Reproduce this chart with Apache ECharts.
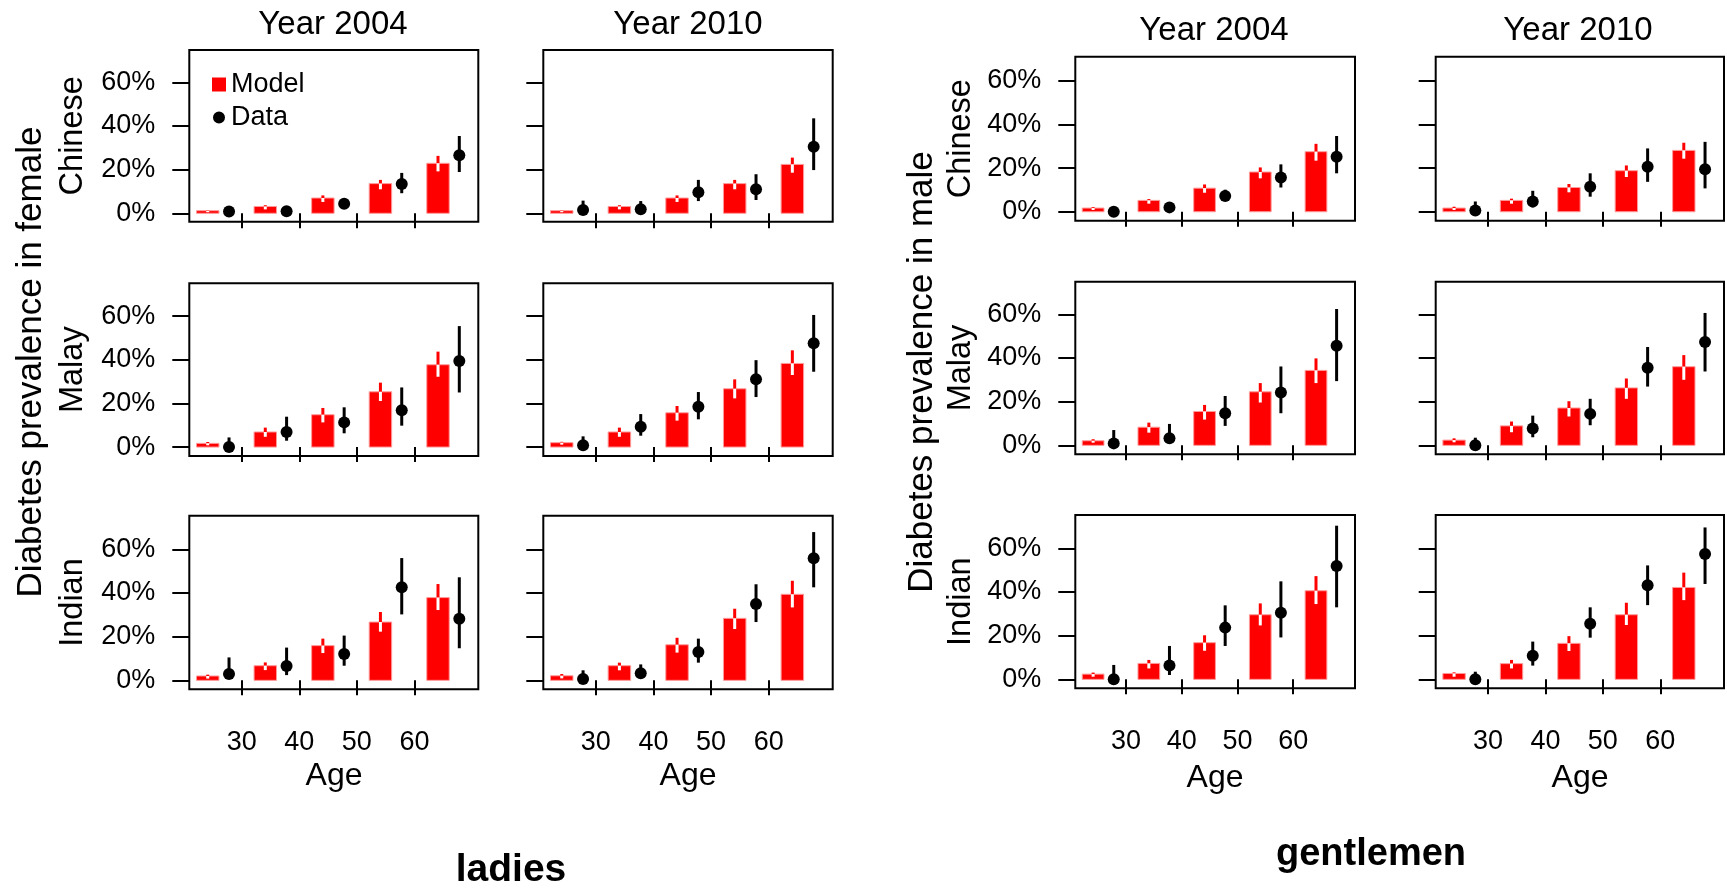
<!DOCTYPE html>
<html>
<head>
<meta charset="utf-8">
<script src="https://cdn.jsdelivr.net/npm/echarts@6/dist/echarts.min.js"></script>
<style>
html,body{margin:0;padding:0;background:#fff;}
#chart{width:1727px;height:888px;}
</style>
</head>
<body>
<div id="chart"></div>
<script>
// ---- Data (values in %) : each entry [estimate, lower, upper] ----
const modelAge = [24.1, 34.1, 44.1, 54.1, 64.1];
const dataAge  = [27.8, 37.8, 47.8, 57.8, 67.8];
const ageTicks = [30, 40, 50, 60];
const pctTicks = [0, 20, 40, 60];
const years = ['Year 2004', 'Year 2010'];
const ethnicities = ['Chinese', 'Malay', 'Indian'];

// Female
const femChinese2004Model = [[1.2,0.5,1.5],[3.1,1.8,3.7],[7.0,5.2,8.2],[13.6,11.0,15.3],[22.9,19.2,26.3]];
const femChinese2004Data  = [[0.8,0.2,1.5],[0.9,0.3,1.6],[4.4,3.0,6.0],[13.4,9.2,18.5],[26.6,18.9,35.4]];
const femChinese2010Model = [[1.2,0.5,1.5],[3.1,1.8,3.7],[7.0,5.2,8.2],[13.6,11.0,15.3],[22.4,18.6,25.5]];
const femChinese2010Data  = [[1.5,0,5.8],[1.8,0,5.6],[9.6,5.6,15.3],[11.0,6.1,17.9],[30.5,19.8,43.5]];
const femMalay2004Model   = [[1.7,0.8,2.3],[6.9,4.7,8.9],[14.8,11.3,17.9],[25.3,21.1,29.5],[37.7,32.2,43.7]];
const femMalay2004Data    = [[0,0,4.4],[6.9,2.9,13.9],[11.3,6.3,18.2],[16.9,9.8,27.3],[39.4,25.0,55.4]];
const femMalay2010Model   = [[2.0,1.1,2.4],[6.9,4.7,8.9],[15.7,12.1,18.8],[26.7,22.3,31.0],[38.3,33.0,44.3]];
const femMalay2010Data    = [[0.8,0,4.9],[9.3,5.2,15.1],[18.5,12.7,25.2],[31.0,22.9,39.8],[47.5,34.5,60.5]];
const femIndian2004Model  = [[2.0,0.8,2.6],[6.7,4.7,8.2],[15.9,12.5,19.1],[26.7,22.3,31.3],[37.9,32.2,44.1]];
const femIndian2004Data   = [[2.9,0.8,10.5],[6.6,2.4,15.0],[12.1,6.7,20.5],[42.6,30.2,56.0],[28.2,14.7,47.2]];
const femIndian2010Model  = [[2.1,0.9,2.9],[6.7,4.6,8.1],[16.3,12.7,19.5],[28.4,23.5,32.8],[39.4,33.4,45.6]];
const femIndian2010Data   = [[0.6,0,4.6],[3.2,1.2,7.3],[13.0,8.1,19.1],[35.0,26.7,44.0],[55.9,42.6,67.9]];

// Male
const maleChinese2004Model = [[1.7,0.8,2.1],[5.2,3.7,5.8],[10.8,8.7,12.5],[18.2,15.3,20.3],[27.5,23.4,31.1]];
const maleChinese2004Data  = [[0,0,1.0],[2.0,1.0,3.5],[7.2,5.0,10.1],[15.7,11.1,21.7],[25.2,17.6,34.7]];
const maleChinese2010Model = [[1.7,0.8,2.3],[5.2,3.7,6.0],[11.1,8.9,12.7],[18.8,15.9,21.2],[28.1,24.3,31.6]];
const maleChinese2010Data  = [[0.6,0,4.7],[4.7,2.0,9.6],[11.5,6.9,17.6],[20.6,13.7,29.0],[19.5,10.7,32.0]];
const maleMalay2004Model   = [[2.1,1.2,2.8],[8.3,5.8,10.4],[15.5,11.8,18.5],[24.5,19.6,28.5],[34.3,28.5,39.8]];
const maleMalay2004Data    = [[0.9,0,7.0],[3.2,0.9,9.8],[14.7,8.9,22.6],[24.2,14.7,36.1],[45.6,29.4,62.4]];
const maleMalay2010Model   = [[2.4,1.4,3.2],[8.9,6.0,10.9],[17.1,13.2,20.2],[26.3,21.3,30.6],[36.0,30.0,41.3]];
const maleMalay2010Data    = [[0,0,3.5],[7.7,3.7,13.6],[14.4,9.2,21.3],[35.5,26.9,45.0],[47.3,33.8,60.6]];
const maleIndian2004Model  = [[2.4,1.2,3.1],[7.3,5.0,8.9],[16.8,13.1,20.2],[29.6,24.7,34.8],[40.6,34.5,47.3]];
const maleIndian2004Data   = [[0,0,6.6],[6.3,2.0,15.3],[23.7,15.3,33.9],[30.5,19.2,44.9],[51.9,33.0,70.4]];
const maleIndian2010Model  = [[2.7,1.2,3.2],[7.2,5.0,8.9],[16.5,13.0,19.8],[29.6,24.9,35.1],[42.1,36.3,48.9]];
const maleIndian2010Data   = [[0,0,3.5],[10.8,6.3,17.3],[25.5,19.1,33.0],[43.1,34.0,52.2],[57.4,43.7,69.6]];

// ---- Layout ----
const FONT = "'Liberation Sans', Arial, Helvetica, sans-serif";
const panels = [
  {m: femChinese2004Model, d: femChinese2004Data, col:0, row:0},
  {m: femChinese2010Model, d: femChinese2010Data, col:1, row:0},
  {m: femMalay2004Model,   d: femMalay2004Data,   col:0, row:1},
  {m: femMalay2010Model,   d: femMalay2010Data,   col:1, row:1},
  {m: femIndian2004Model,  d: femIndian2004Data,  col:0, row:2},
  {m: femIndian2010Model,  d: femIndian2010Data,  col:1, row:2},
  {m: maleChinese2004Model, d: maleChinese2004Data, col:2, row:0},
  {m: maleChinese2010Model, d: maleChinese2010Data, col:3, row:0},
  {m: maleMalay2004Model,   d: maleMalay2004Data,   col:2, row:1},
  {m: maleMalay2010Model,   d: maleMalay2010Data,   col:3, row:1},
  {m: maleIndian2004Model,  d: maleIndian2004Data,  col:2, row:2},
  {m: maleIndian2010Model,  d: maleIndian2010Data,  col:3, row:2}
];
const colBox = [ {left:189.3, width:289}, {left:543.3, width:289.4}, {left:1075.3, width:279.7}, {left:1435.7, width:288.3} ];
const rowBoxL = [ {top:50, height:171.7, min:-3.85, max:74.8}, {top:283.3, height:172.7, min:-4.1, max:75.0}, {top:515.7, height:173.6, min:-4.1, max:75.4} ];
const rowBoxR = [ {top:56.7, height:164, min:-4.1, max:71.0}, {top:281.7, height:172.6, min:-4.1, max:74.9}, {top:515, height:173.3, min:-4.1, max:75.3} ];

const grids = [], xAxes = [], yAxes = [], series = [];
panels.forEach((p, i) => {
  const cb = colBox[p.col];
  const rb = (p.col < 2 ? rowBoxL : rowBoxR)[p.row];
  grids.push({left: cb.left, top: rb.top, width: cb.width, height: rb.height,
    show: true, borderColor: '#000', borderWidth: 2, backgroundColor: 'transparent', containLabel: false});
  const bottom = p.row === 2;
  const leftCol = p.col === 0 || p.col === 2;
  xAxes.push({type:'value', gridIndex:i, min:20.9, max:71.1,
    axisLine:{show:false}, splitLine:{show:false},
    axisTick:{show:true, customValues: ageTicks, length:15, lineStyle:{color:'#000', width:2}},
    axisLabel:{show: bottom, customValues: ageTicks, margin: 40, fontSize:27, color:'#000', fontFamily:FONT}
  });
  yAxes.push({type:'value', gridIndex:i, min: rb.min, max: rb.max,
    axisLine:{show:false}, splitLine:{show:false},
    axisTick:{show:true, customValues: pctTicks, length:17, lineStyle:{color:'#000', width:2}},
    axisLabel:{show: leftCol, customValues: pctTicks, formatter:'{value}%', margin: 34, fontSize:27, color:'#000', fontFamily:FONT}
  });
  series.push({
    type:'custom', name: i === 0 ? 'Model' : 'Model ' + i, xAxisIndex:i, yAxisIndex:i,
    itemStyle:{color:'#ff0000'},
    data: p.m.map((v, k) => [modelAge[k], v[0], v[1], v[2]]),
    renderItem: function(params, api){
      const x = api.value(0), v = api.value(1), lo = api.value(2), hi = api.value(3);
      const a = api.coord([x - 1.95, v]), b = api.coord([x + 1.95, 0]);
      const t = api.coord([x, v]), l = api.coord([x, lo]), h = api.coord([x, hi]);
      return {type:'group', children:[
        {type:'rect', shape:{x:a[0], y:a[1], width:b[0]-a[0], height:b[1]-a[1]}, style:{fill:'#ff0000', stroke:'#ff9a9a', lineWidth:1}},
        {type:'line', shape:{x1:t[0], y1:t[1], x2:h[0], y2:h[1]}, style:{stroke:'#ff0000', lineWidth:3}},
        {type:'line', shape:{x1:t[0], y1:t[1], x2:l[0], y2:l[1]}, style:{stroke:'#ffffff', lineWidth:3}}
      ]};
    }
  });
  series.push({
    type:'custom', name: i === 0 ? 'Data' : 'Data ' + i, xAxisIndex:i, yAxisIndex:i,
    itemStyle:{color:'#000'},
    data: p.d.map((v, k) => [dataAge[k], v[0], v[1], v[2]]),
    renderItem: function(params, api){
      const x = api.value(0), v = api.value(1), lo = api.value(2), hi = api.value(3);
      const c = api.coord([x, v]), l = api.coord([x, lo]), h = api.coord([x, hi]);
      return {type:'group', children:[
        {type:'line', shape:{x1:l[0], y1:l[1], x2:h[0], y2:h[1]}, style:{stroke:'#000', lineWidth:3}},
        {type:'circle', shape:{cx:c[0], cy:c[1], r:6}, style:{fill:'#000'}}
      ]};
    }
  });
});

function txt(text, x, y, size, opts) {
  opts = opts || {};
  return {type:'text', x:x, y:y, rotation: opts.rot || 0,
    style:{text:text, fontSize:size, fontFamily: opts.font || FONT, fontWeight: opts.bold ? 'bold' : 'normal',
      fill:'#000', align:'center', verticalAlign:'middle'}};
}
const graphics = [];
graphics.push(txt(years[0], 333, 25, 33));
graphics.push(txt(years[1], 688, 25, 33));
graphics.push(txt(years[0], 1214, 31, 33));
graphics.push(txt(years[1], 1578, 31, 33));
const rowCentersL = [135.8, 369.7, 602.5], rowCentersR = [138.7, 368, 601.7];
ethnicities.forEach((e, r) => {
  graphics.push(txt(e, 73, rowCentersL[r], 32.5, {rot: Math.PI/2}));
  graphics.push(txt(e, 961, rowCentersR[r], 32.5, {rot: Math.PI/2}));
});
['Age'].forEach(a => {
  graphics.push(txt(a, 334, 776, 32));
  graphics.push(txt(a, 688, 776, 32));
  graphics.push(txt(a, 1215, 778, 32));
  graphics.push(txt(a, 1580, 778, 32));
});
graphics.push(txt('Diabetes prevalence in female', 31, 362, 35, {rot: Math.PI/2}));
graphics.push(txt('Diabetes prevalence in male', 922, 372, 35, {rot: Math.PI/2}));
graphics.push(txt('ladies', 511, 870, 39, {bold:true}));
graphics.push(txt('gentlemen', 1371, 855, 38, {bold:true}));

const chart = echarts.init(document.getElementById('chart'), null, {renderer:'canvas'});
chart.setOption({
  backgroundColor:'#ffffff',
  animation:false,
  grid: grids, xAxis: xAxes, yAxis: yAxes, series: series,
  legend:{left:211, top:71, orient:'vertical', padding:0, itemGap:6, itemWidth:14, itemHeight:14,
    textStyle:{fontSize:27, color:'#000', fontFamily:FONT, lineHeight:27},
    data:[{name:'Model', icon:'rect', itemStyle:{color:'#ff0000'}},
          {name:'Data', icon:'circle', itemStyle:{color:'#000', borderColor:'#fff', borderWidth:2}}]},
  graphic: graphics
});
</script>
</body>
</html>
